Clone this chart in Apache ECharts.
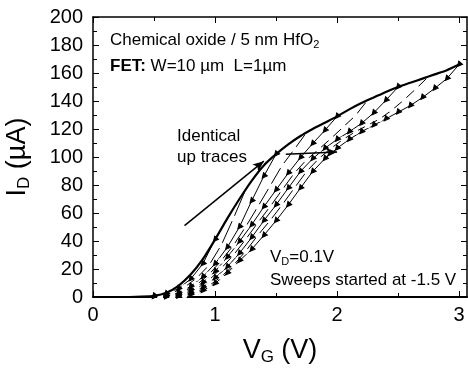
<!DOCTYPE html>
<html>
<head>
<meta charset="utf-8">
<script src="https://cdn.jsdelivr.net/npm/echarts@6/dist/echarts.min.js"></script>
<style>
  html, body { margin: 0; padding: 0; background: #fff; }
  #chart { width: 468px; height: 368px; }
</style>
</head>
<body>
<div id="chart"></div>
<script>
// Gate voltage range and tick layout
const xMax = 3.065;
const xMajorTicks = [0, 1, 2, 3];
const xMinorTicks = [0.5, 1.5, 2.5];
const yTicks = [0, 20, 40, 60, 80, 100, 120, 140, 160, 180, 200];

// Up sweep (all up traces coincide)
const upTraceV = [0, 0.1, 0.2, 0.3, 0.4, 0.5, 0.6, 0.7, 0.8, 0.9, 1.0, 1.1, 1.2, 1.3, 1.4, 1.5,
  1.6, 1.7, 1.8, 1.9, 2.0, 2.1, 2.2, 2.3, 2.4, 2.5, 2.6, 2.7, 2.8, 2.9, 3.0];
const upTraceI = [0, 0, 0, 0, 0.2, 0.8, 3, 8, 16, 27, 41, 56, 70, 83, 94, 102,
  109, 115, 120, 124.5, 129, 134, 138.5, 142.5, 146.5, 150, 153, 156, 159, 162, 166];

// Down sweeps, one per maximum gate voltage
const sweep300V = [3.0, 2.9, 2.8, 2.7, 2.6, 2.5, 2.4, 2.3, 2.2, 2.1, 2.0, 1.9, 1.8, 1.7, 1.6, 1.5, 1.4, 1.3, 1.2, 1.1, 1.0, 0.9, 0.8, 0.7, 0.6];
const sweep300I = [166, 156, 149, 142.5, 136.7, 132, 127.2, 122.7, 118, 112.6, 106.2, 98.8, 89.6, 77.8, 65.8, 54.5, 44, 34, 25.9, 17.1, 9.6, 4.5, 1.7, 0.5, 0.1];

const sweep275V = [2.75, 2.65, 2.55, 2.45, 2.35, 2.25, 2.15, 2.05, 1.95, 1.85, 1.75, 1.65, 1.55, 1.45, 1.35, 1.25, 1.15, 1.05, 0.95, 0.85, 0.75, 0.65];
const sweep275I = [157.5, 149, 140.9, 133.5, 127.2, 122.7, 118, 112.6, 106.2, 98.8, 89.6, 77.8, 65.8, 54.5, 44, 32.6, 22.6, 14.4, 8, 3.5, 1.2, 0.3];

const sweep250V = [2.5, 2.4, 2.3, 2.2, 2.1, 2.0, 1.9, 1.8, 1.7, 1.6, 1.5, 1.4, 1.3, 1.2, 1.1, 1.0, 0.9, 0.8, 0.7, 0.6];
const sweep250I = [150, 140.5, 131.5, 124, 118, 112.6, 106.2, 98.8, 89.6, 77.8, 65.8, 54.5, 42.5, 31.2, 21.5, 13.6, 7, 2.8, 0.8, 0.2];

const sweep225V = [2.25, 2.15, 2.05, 1.95, 1.85, 1.75, 1.65, 1.55, 1.45, 1.35, 1.25, 1.15, 1.05, 0.95, 0.85, 0.75, 0.65];
const sweep225I = [140.5, 129.5, 121.4, 113.2, 105.5, 98, 88.5, 76.5, 64.4, 53, 41, 29.8, 20.4, 12, 6, 2.3, 0.6];

const sweep200V = [2.0, 1.9, 1.8, 1.7, 1.6, 1.5, 1.4, 1.3, 1.2, 1.1, 1.0, 0.9, 0.8, 0.7, 0.6];
const sweep200I = [129, 119, 109.6, 99.6, 88.5, 76.5, 64.4, 51.5, 39.6, 28.4, 18.2, 10.4, 5, 1.9, 0.5];

const sweep175V = [1.75, 1.65, 1.55, 1.45, 1.35, 1.25, 1.15, 1.05, 0.95, 0.85, 0.75, 0.65, 0.55];
const sweep175I = [117.5, 105.5, 94, 79.1, 64.4, 50, 36.8, 25.9, 16, 8.8, 4, 1.5, 0.3];

const sweep150V = [1.5, 1.4, 1.3, 1.2, 1.1, 1.0, 0.9, 0.8, 0.7, 0.6, 0.5];
const sweep150I = [102, 86.3, 68.6, 50, 35.4, 23.7, 14.4, 7.5, 3, 1, 0.2];

const sweep125V = [1.25, 1.15, 1.05, 0.95, 0.85, 0.75, 0.65, 0.55];
const sweep125I = [76.5, 56, 36.8, 22.6, 13.6, 7, 2.8, 0.8];

const sweep100V = [1.0, 0.9, 0.8, 0.7, 0.6, 0.5];
const sweep100I = [41, 23.7, 12.8, 6, 2.2, 0.6];

// Annotation arrows (data coordinates)
const upArrowFrom = [0.75, 51], upArrowTo = [1.4, 97];
const shiftArrowFrom = [1.58, 102], shiftArrowTo = [2.0, 103.5];

const FONT = 'Liberation Sans, Arial, sans-serif';
const pairs = (vs, is) => vs.map((v, k) => [v, is[k]]);

const downSweeps = [
  { v: sweep300V, i: sweep300I, marker: 'triangle' },
  { v: sweep275V, i: sweep275I, marker: 'emptyCircle' },
  { v: sweep250V, i: sweep250I, marker: 'triangle' },
  { v: sweep225V, i: sweep225I, marker: 'emptyCircle' },
  { v: sweep200V, i: sweep200I, marker: 'triangle' },
  { v: sweep175V, i: sweep175I, marker: 'emptyCircle' },
  { v: sweep150V, i: sweep150I, marker: 'triangle' },
  { v: sweep125V, i: sweep125I, marker: 'emptyCircle' },
  { v: sweep100V, i: sweep100I, marker: 'triangle' }
];

const series = downSweeps.map(s => ({
  type: 'line',
  xAxisIndex: 0, yAxisIndex: 0,
  data: pairs(s.v, s.i),
  symbol: s.marker,
  symbolSize: s.marker === 'triangle' ? 5 : 4,
  symbolRotate: s.marker === 'triangle' ? 140 : 0,
  showSymbol: true,
  showAllSymbol: true,
  lineStyle: { color: '#000', width: 1 },
  itemStyle: { color: s.marker === 'triangle' ? '#000' : '#fff', borderColor: '#000', borderWidth: 1 },
  z: 2,
  silent: true
}));

series.push({
  type: 'line',
  xAxisIndex: 0, yAxisIndex: 0,
  data: pairs(upTraceV, upTraceI),
  showSymbol: false,
  smooth: 0.2,
  lineStyle: { color: '#000', width: 2.2 },
  z: 3,
  silent: true,
  markLine: {
    silent: true,
    symbol: ['none', 'arrow'],
    symbolSize: [7, 11],
    label: { show: false },
    lineStyle: { color: '#000', width: 1.5, type: 'solid' },
    data: [
      [{ coord: upArrowFrom }, { coord: upArrowTo }],
      [{ coord: shiftArrowFrom }, { coord: shiftArrowTo }]
    ]
  }
});

const gridRect = { left: 93, top: 17, width: 374, height: 280, containLabel: false, outerBoundsMode: 'none' };
const tickLabelStyle = { fontSize: 20, color: '#000', fontFamily: FONT };
const titleRich = {
  v: { fontSize: 27, fontFamily: FONT, color: '#000' },
  s: { fontSize: 17, fontFamily: FONT, color: '#000', padding: [14, 0, 0, 0] }
};

const option = {
  animation: false,
  backgroundColor: '#fff',
  grid: [
    Object.assign({}, gridRect),
    Object.assign({}, gridRect)
  ],
  xAxis: [
    {
      gridIndex: 0, type: 'value', position: 'bottom', min: 0, max: xMax,
      axisLine: { onZero: false, lineStyle: { color: '#000', width: 2 } },
      axisTick: { inside: true, length: 6, customValues: xMajorTicks, lineStyle: { color: '#000', width: 1 } },
      axisLabel: Object.assign({ margin: 8, customValues: xMajorTicks }, tickLabelStyle),
      splitLine: { show: false },
      name: '{v|V}{s|G}{v| (V)}',
      nameLocation: 'middle',
      nameGap: 38,
      nameTextStyle: { color: '#000', fontFamily: FONT, rich: titleRich }
    },
    {
      gridIndex: 0, type: 'value', position: 'top', min: 0, max: xMax,
      axisLine: { onZero: false, lineStyle: { color: '#000', width: 1.5 } },
      axisTick: { inside: true, length: 6, customValues: xMajorTicks, lineStyle: { color: '#000', width: 1 } },
      axisLabel: { show: false },
      splitLine: { show: false }
    },
    {
      gridIndex: 1, type: 'value', position: 'bottom', min: 0, max: xMax,
      axisLine: { show: false },
      axisTick: { inside: true, length: 4, customValues: xMinorTicks, lineStyle: { color: '#000', width: 1 } },
      axisLabel: { show: false },
      splitLine: { show: false }
    },
    {
      gridIndex: 1, type: 'value', position: 'top', min: 0, max: xMax,
      axisLine: { show: false },
      axisTick: { inside: true, length: 4, customValues: xMinorTicks, lineStyle: { color: '#000', width: 1 } },
      axisLabel: { show: false },
      splitLine: { show: false }
    }
  ],
  yAxis: [
    {
      gridIndex: 0, type: 'value', position: 'left', min: 0, max: 200, interval: 20,
      axisLine: { onZero: false, lineStyle: { color: '#000', width: 1.5 } },
      axisTick: { inside: true, length: 6, lineStyle: { color: '#000', width: 1 } },
      minorTick: { show: true, splitNumber: 2, length: 4, lineStyle: { color: '#000', width: 1 } },
      axisLabel: Object.assign({ margin: 10, customValues: yTicks }, tickLabelStyle),
      splitLine: { show: false },
      name: '{v|I}{s|D}{v| (\u00b5A)}',
      nameLocation: 'middle',
      nameGap: 60,
      nameRotate: 90,
      nameTextStyle: { color: '#000', fontFamily: FONT, rich: titleRich }
    },
    {
      gridIndex: 0, type: 'value', position: 'right', min: 0, max: 200, interval: 20,
      axisLine: { onZero: false, lineStyle: { color: '#000', width: 1.5 } },
      axisTick: { inside: true, length: 6, lineStyle: { color: '#000', width: 1 } },
      minorTick: { show: true, splitNumber: 2, length: 4, lineStyle: { color: '#000', width: 1 } },
      axisLabel: { show: false },
      splitLine: { show: false }
    },
    {
      gridIndex: 1, type: 'value', min: 0, max: 200, show: false
    }
  ],
  graphic: [
    {
      type: 'text', left: 110, top: 32, silent: true,
      style: {
        text: 'Chemical oxide / 5 nm HfO{s|2}',
        font: '17px ' + FONT, fill: '#000',
        rich: { s: { fontSize: 11, fontFamily: FONT, fill: '#000', padding: [8, 0, 0, 0] } }
      }
    },
    {
      type: 'text', left: 110, top: 58, silent: true,
      style: {
        text: '{b|FET:} W=10 \u00b5m  L=1\u00b5m',
        font: '17px ' + FONT, fill: '#000',
        rich: { b: { fontSize: 17, fontWeight: 'bold', fontFamily: FONT, fill: '#000' } }
      }
    },
    {
      type: 'text', left: 177, top: 128, silent: true,
      style: { text: 'Identical', font: '17px ' + FONT, fill: '#000' }
    },
    {
      type: 'text', left: 177, top: 149, silent: true,
      style: { text: 'up traces', font: '17px ' + FONT, fill: '#000' }
    },
    {
      type: 'text', left: 270, top: 249, silent: true,
      style: {
        text: 'V{s|D}=0.1V',
        font: '17px ' + FONT, fill: '#000',
        rich: { s: { fontSize: 11, fontFamily: FONT, fill: '#000', padding: [8, 0, 0, 0] } }
      }
    },
    {
      type: 'text', left: 270, top: 272, silent: true,
      style: { text: 'Sweeps started at -1.5 V', font: '17px ' + FONT, fill: '#000' }
    }
  ],
  series: series
};

const chart = echarts.init(document.getElementById('chart'), null, { renderer: 'canvas' });
chart.setOption(option);
</script>
</body>
</html>
